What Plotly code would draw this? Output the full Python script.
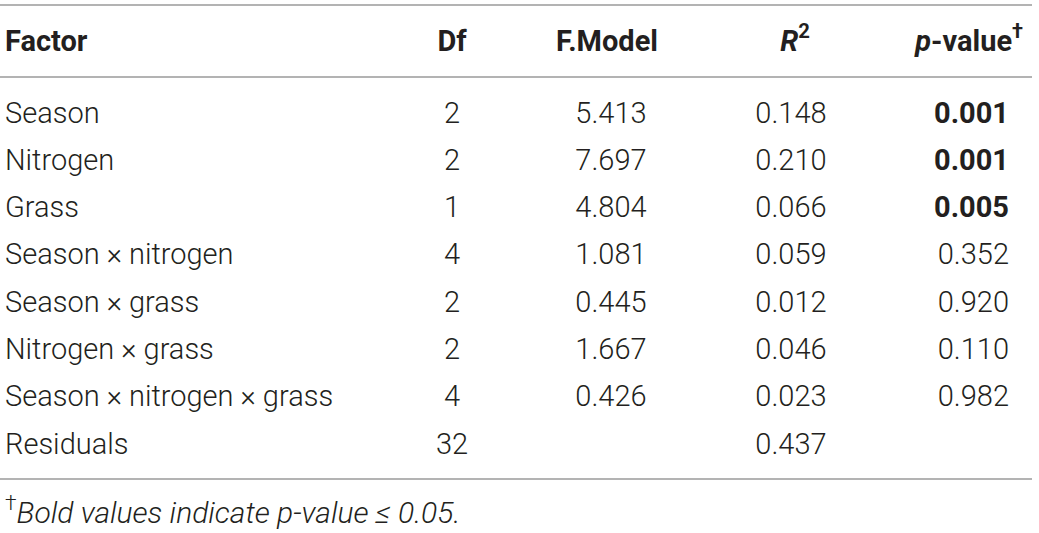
import plotly.graph_objects as go

# table content
factors = ["Season", "Nitrogen", "Grass", "Season × nitrogen", "Season × grass",
           "Nitrogen × grass", "Season × nitrogen × grass", "Residuals"]
df_vals = ["2", "2", "1", "4", "2", "2", "4", "32"]
f_model = ["5.413", "7.697", "4.804", "1.081", "0.445", "1.667", "0.426", ""]
r2_vals = ["0.148", "0.210", "0.066", "0.059", "0.012", "0.046", "0.023", "0.437"]
p_vals = ["0.001", "0.001", "0.005", "0.352", "0.920", "0.110", "0.982", ""]
headers = ["Factor", "Df", "F.Model", "<i>R</i><sup>2</sup>", "<i>p</i>-value<sup>†</sup>"]
footnote = "<sup>†</sup><i>Bold values indicate p-value ≤ 0.05.</i>"

FONT = "Roboto"
TXT = "#231f20"
SIZE = 29

p_text = [f"<b>{p}</b>" if p and float(p) <= 0.05 else p for p in p_vals]

# column anchors (x) and text positions
cols = [
    (5, factors, "middle right"),
    (452, df_vals, "middle center"),
    (611, f_model, "middle center"),
    (791, r2_vals, "middle center"),
    (1009, p_text, "middle left"),
]

fig = go.Figure()
for x0, vals, pos in cols:
    ys = [i for i, v in enumerate(vals) if v]
    txt = [v for v in vals if v]
    fig.add_trace(go.Scatter(
        x=[x0] * len(ys), y=ys, mode="text", text=txt, textposition=pos,
        textfont=dict(family=FONT, size=SIZE, color=TXT, weight=300),
        hoverinfo="skip", showlegend=False,
    ))

# header row
hdr_y = -1.52
hdr_x = [5, 452, 607, 795, 1023]
hdr_pos = ["middle right", "middle center", "middle center", "middle center", "middle left"]
for x0, h, pos in zip(hdr_x, headers, hdr_pos):
    fig.add_trace(go.Scatter(
        x=[x0], y=[hdr_y], mode="text", text=[f"<b>{h}</b>"], textposition=pos,
        textfont=dict(family=FONT, size=SIZE, color=TXT, weight=300),
        hoverinfo="skip", showlegend=False,
    ))

# horizontal rules
for yl in [-2.332, -0.81, 7.69]:
    fig.add_shape(type="line", x0=0, x1=1032, y0=yl, y1=yl,
                  line=dict(color="#9a9a9a", width=1.5))

fig.add_annotation(x=3, y=8.36, text=footnote, showarrow=False, xanchor="left",
                   font=dict(family=FONT, size=30, color=TXT, weight=300))

fig.update_layout(
    width=1039, height=533,
    margin=dict(l=0, r=0, t=0, b=0),
    paper_bgcolor="white", plot_bgcolor="white",
    xaxis=dict(range=[0, 1039], visible=False, fixedrange=True),
    yaxis=dict(range=[8.83, -2.438], visible=False, fixedrange=True),
)

fig.write_html("out.html", config={"displayModeBar": False},
               post_script="document.body.style.margin='0';")
